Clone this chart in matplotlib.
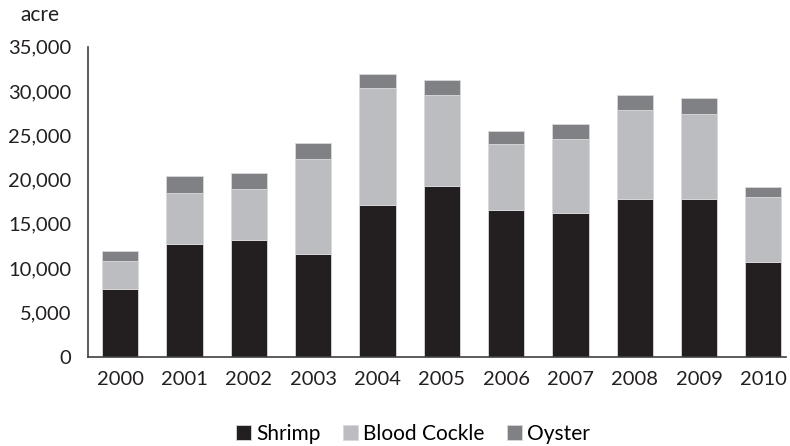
import matplotlib.pyplot as plt
from matplotlib.ticker import FuncFormatter

years = ['2000', '2001', '2002', '2003', '2004', '2005', '2006', '2007', '2008', '2009', '2010']
shrimp = [7700, 12750, 13150, 11600, 17150, 19250, 16600, 16250, 17800, 17800, 10700]
blood_cockle = [3150, 5750, 5800, 10700, 13200, 10300, 7400, 8350, 10050, 9650, 7350]
oyster = [1050, 1900, 1800, 1800, 1550, 1650, 1500, 1650, 1700, 1750, 1100]

plt.rcParams['font.family'] = ['Lato', 'DejaVu Sans']

fig = plt.figure(figsize=(7.9, 4.46), dpi=100)
ax = fig.add_axes([88 / 790, 1 - 356.7 / 446, (786 - 88) / 790, 310 / 446])

x = range(len(years))
w = 0.56
ax.bar(x, shrimp, w, color='#231f20', edgecolor='#d9d9db', linewidth=0.6, label='Shrimp')
ax.bar(x, blood_cockle, w, bottom=shrimp, color='#bcbdc0', edgecolor='#d9d9db',
       linewidth=0.6, label='Blood Cockle')
base2 = [a + b for a, b in zip(shrimp, blood_cockle)]
ax.bar(x, oyster, w, bottom=base2, color='#808184', edgecolor='#d9d9db',
       linewidth=0.6, label='Oyster')

ax.set_xlim(-0.5, 10.35)
ax.set_ylim(0, 35000)
ax.set_yticks(range(0, 35001, 5000))
ax.yaxis.set_major_formatter(FuncFormatter(lambda v, p: f'{int(v):,}'))
ax.set_xticks(list(x))
ax.set_xticklabels(years)
ax.tick_params(length=0, labelsize=14.5, colors='#231f20')
ax.tick_params(axis='y', pad=12)
ax.tick_params(axis='x', pad=10)
for s in ['top', 'right']:
    ax.spines[s].set_visible(False)
for s in ['left', 'bottom']:
    ax.spines[s].set_color('#404040')
    ax.spines[s].set_linewidth(1.2)

fig.text(20 / 790, 1 - 15 / 446, 'acre', fontsize=15, color='#231f20', va='center')

fig.legend(loc='center', bbox_to_anchor=(413 / 790, 1 - 434 / 446), ncol=3, frameon=False,
           fontsize=15, handlelength=0.7, handleheight=0.7, handletextpad=0.25,
           columnspacing=1.1)

fig.savefig('out.png', dpi=100)
